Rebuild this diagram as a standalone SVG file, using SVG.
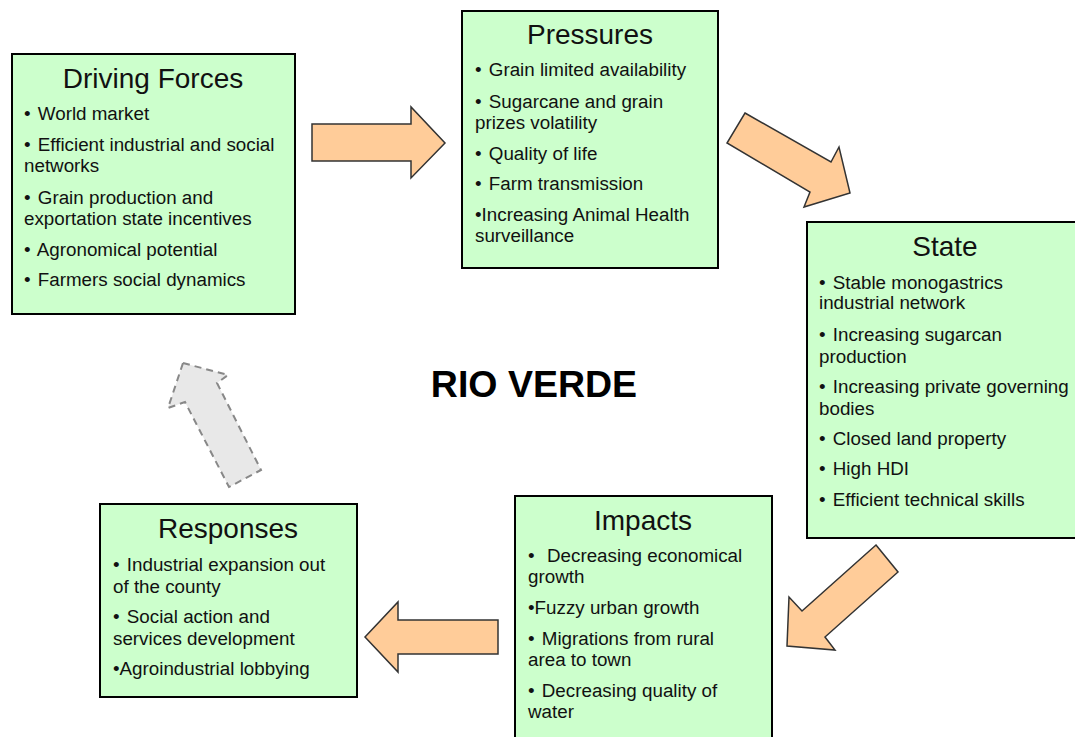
<svg xmlns="http://www.w3.org/2000/svg" width="1075" height="737" viewBox="0 0 1075 737">
<style>
  .box { fill: #ccffcc; stroke: #000; stroke-width: 2; }
  .title { font-family: "Liberation Sans", Arial, sans-serif; font-size: 28px; fill: #111; text-anchor: middle; }
  .item { font-family: "Liberation Sans", Arial, sans-serif; font-size: 18.8px; fill: #111; white-space: pre; }
  .arrow { fill: #ffcc99; stroke: #333; stroke-width: 1.5; stroke-linejoin: miter; }
  .feedback { fill: #e8e8e8; stroke: #888; stroke-width: 2; stroke-dasharray: 7 5; }
  .center { font-family: "Liberation Sans", Arial, sans-serif; font-size: 37.5px; font-weight: bold; fill: #000; text-anchor: middle; }
</style>
<rect width="1075" height="737" fill="#fff"/>

<g id="driving-forces">
  <rect class="box" x="12" y="54" width="283" height="260"/>
  <text class="title" x="153" y="88">Driving Forces</text>
  <text class="item" x="24" y="119.5">• <tspan dx="2">World market</tspan></text>
  <text class="item" x="24" y="150.5">• <tspan dx="2">Efficient industrial and social</tspan></text>
  <text class="item" x="24" y="171.5">networks</text>
  <text class="item" x="24" y="203.5">• <tspan dx="2">Grain production and</tspan></text>
  <text class="item" x="24" y="224.5">exportation state incentives</text>
  <text class="item" x="24" y="255.5">• <tspan dx="2">Agronomical potential</tspan></text>
  <text class="item" x="24" y="285.5">• <tspan dx="2">Farmers social dynamics</tspan></text>
</g>

<g id="pressures">
  <rect class="box" x="462" y="11" width="256" height="257"/>
  <text class="title" x="590" y="44">Pressures</text>
  <text class="item" x="475" y="75.5">• <tspan dx="2">Grain limited availability</tspan></text>
  <text class="item" x="475" y="107.5">• <tspan dx="2">Sugarcane and grain</tspan></text>
  <text class="item" x="475" y="128.5">prizes volatility</text>
  <text class="item" x="475" y="159.5">• <tspan dx="2">Quality of life</tspan></text>
  <text class="item" x="475" y="189.5">• <tspan dx="2">Farm transmission</tspan></text>
  <text class="item" x="475" y="220.5">•Increasing Animal Health</text>
  <text class="item" x="475" y="241.5">surveillance</text>
</g>

<g id="state">
  <rect class="box" x="807" y="222" width="272" height="316"/>
  <text class="title" x="945" y="256">State</text>
  <text class="item" x="819" y="288.5">• <tspan dx="2">Stable monogastrics</tspan></text>
  <text class="item" x="819" y="308.5">industrial network</text>
  <text class="item" x="819" y="340.5">• <tspan dx="2">Increasing sugarcan</tspan></text>
  <text class="item" x="819" y="362.5">production</text>
  <text class="item" x="819" y="392.5">• <tspan dx="2">Increasing private governing</tspan></text>
  <text class="item" x="819" y="414.5">bodies</text>
  <text class="item" x="819" y="444.5">• <tspan dx="2">Closed land property</tspan></text>
  <text class="item" x="819" y="474.5">• <tspan dx="2">High HDI</tspan></text>
  <text class="item" x="819" y="505.5">• <tspan dx="2">Efficient technical skills</tspan></text>
</g>

<g id="impacts">
  <rect class="box" x="515" y="496" width="257" height="250"/>
  <text class="title" x="643" y="530">Impacts</text>
  <text class="item" x="528" y="561.5">•  <tspan dx="2">Decreasing economical</tspan></text>
  <text class="item" x="528" y="582.5">growth</text>
  <text class="item" x="528" y="613.5">•Fuzzy urban growth</text>
  <text class="item" x="528" y="644.5">• <tspan dx="2">Migrations from rural</tspan></text>
  <text class="item" x="528" y="665.5">area to town</text>
  <text class="item" x="528" y="696.5">• <tspan dx="2">Decreasing quality of</tspan></text>
  <text class="item" x="528" y="717.5">water</text>
</g>

<g id="responses">
  <rect class="box" x="100" y="504" width="257" height="193"/>
  <text class="title" x="228" y="538">Responses</text>
  <text class="item" x="113" y="570.5">• <tspan dx="2">Industrial expansion out</tspan></text>
  <text class="item" x="113" y="592.5">of the county</text>
  <text class="item" x="113" y="622.5">• <tspan dx="2">Social action and</tspan></text>
  <text class="item" x="113" y="644.5">services development</text>
  <text class="item" x="113" y="674.5">•Agroindustrial lobbying</text>
</g>

<g id="center-label">
  <text class="center" x="534" y="397">RIO VERDE</text>
</g>

<g id="connectors">
  <polygon class="arrow" points="312,124 411,124 411,107 445,143 411,178 411,161 312,161"/>
  <polygon class="arrow" points="745,113 831,162 839,147 850,193 804,207 810,192 727,143"/>
  <polygon class="arrow" points="876,545 898,572 825,637 835,650 787,646 789,597 802,611"/>
  <polygon class="arrow" points="498,620 398,620 398,602 365,637 398,672 398,654 498,654"/>
  <polygon class="feedback" points="183,363 228,375 217,383 261,470 229,487 185,402 168,408"/>
</g>
</svg>
